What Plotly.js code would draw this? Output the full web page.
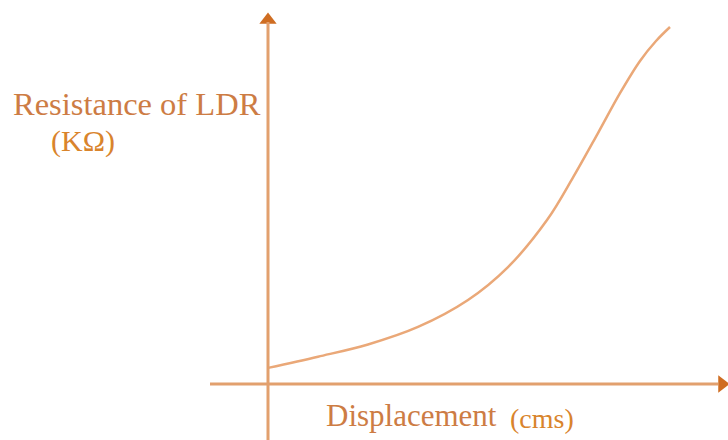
<!DOCTYPE html>
<html>
<head>
<meta charset="utf-8">
<script src="https://cdn.plot.ly/plotly-3.0.1.min.js"></script>
<style>html,body{margin:0;padding:0;background:#fff;}#chart{width:728px;height:440px;}</style>
</head>
<body>
<div id="chart"></div>
<script>
// Data (arbitrary units)
const displacement = [0, 1.25, 2.5, 3.75, 5.0, 6.0, 6.98, 7.63, 8.25, 8.8, 9.3, 9.7, 10.05];
const resistance   = [0.46, 0.78, 1.13, 1.63, 2.4, 3.34, 4.69, 5.91, 7.17, 8.31, 9.23, 9.8, 10.2];
const yLabel = "Resistance of LDR";
const yUnit = "(KΩ)";
const xLabel = "Displacement";
const xUnit = "(cms)";

const W = 728, H = 440;
const xr = [-6.7, 11.5], yr = [-1.6, 10.9714];
const X = px => xr[0] + (xr[1]-xr[0]) * px / W;
const Y = py => yr[1] - (yr[1]-yr[0]) * py / H;

const axisCol = '#e2a06e', headCol = '#cf6d22', curveCol = '#eaa878';
const textCol = '#cd7c44', unitCol = '#d9842c';
const font = '"Liberation Serif", "Times New Roman", serif';

const traces = [
  {x: displacement, y: resistance, mode: 'lines', line: {color: curveCol, width: 2.5, shape: 'spline', smoothing: 1}, hoverinfo: 'skip'},
  {x: [X(268)], y: [Y(20)], mode: 'markers', marker: {symbol: 'triangle-up', size: 15, color: headCol}, hoverinfo: 'skip'},
  {x: [X(722)], y: [Y(384)], mode: 'markers', marker: {symbol: 'triangle-right', size: 15, color: headCol}, hoverinfo: 'skip'}
];

const layout = {
  width: W, height: H, margin: {l: 0, r: 0, t: 0, b: 0},
  paper_bgcolor: '#fff', plot_bgcolor: '#fff', showlegend: false,
  xaxis: {range: xr, visible: false, fixedrange: true},
  yaxis: {range: yr, visible: false, fixedrange: true},
  shapes: [
    {type: 'line', xref: 'x', yref: 'y', x0: X(268), x1: X(268), y0: Y(440), y1: Y(22), line: {color: axisCol, width: 3}},
    {type: 'line', xref: 'x', yref: 'y', x0: X(210), x1: X(718), y0: Y(384), y1: Y(384), line: {color: axisCol, width: 3}}
  ],
  annotations: [
    {text: yLabel, xref: 'paper', yref: 'paper', x: 11/W, y: 1 - 104/H, xanchor: 'left', yanchor: 'middle', showarrow: false, font: {family: font, size: 32.5, color: textCol}},
    {text: yUnit, xref: 'paper', yref: 'paper', x: 49/W, y: 1 - 141/H, xanchor: 'left', yanchor: 'middle', showarrow: false, font: {family: font, size: 30, color: unitCol}},
    {text: xLabel, xref: 'paper', yref: 'paper', x: 324/W, y: 1 - 415/H, xanchor: 'left', yanchor: 'middle', showarrow: false, font: {family: font, size: 31, color: textCol}},
    {text: xUnit, xref: 'paper', yref: 'paper', x: 508/W, y: 1 - 418/H, xanchor: 'left', yanchor: 'middle', showarrow: false, font: {family: font, size: 28, color: unitCol}}
  ]
};

Plotly.newPlot('chart', traces, layout, {staticPlot: true, displayModeBar: false});
</script>
</body>
</html>
